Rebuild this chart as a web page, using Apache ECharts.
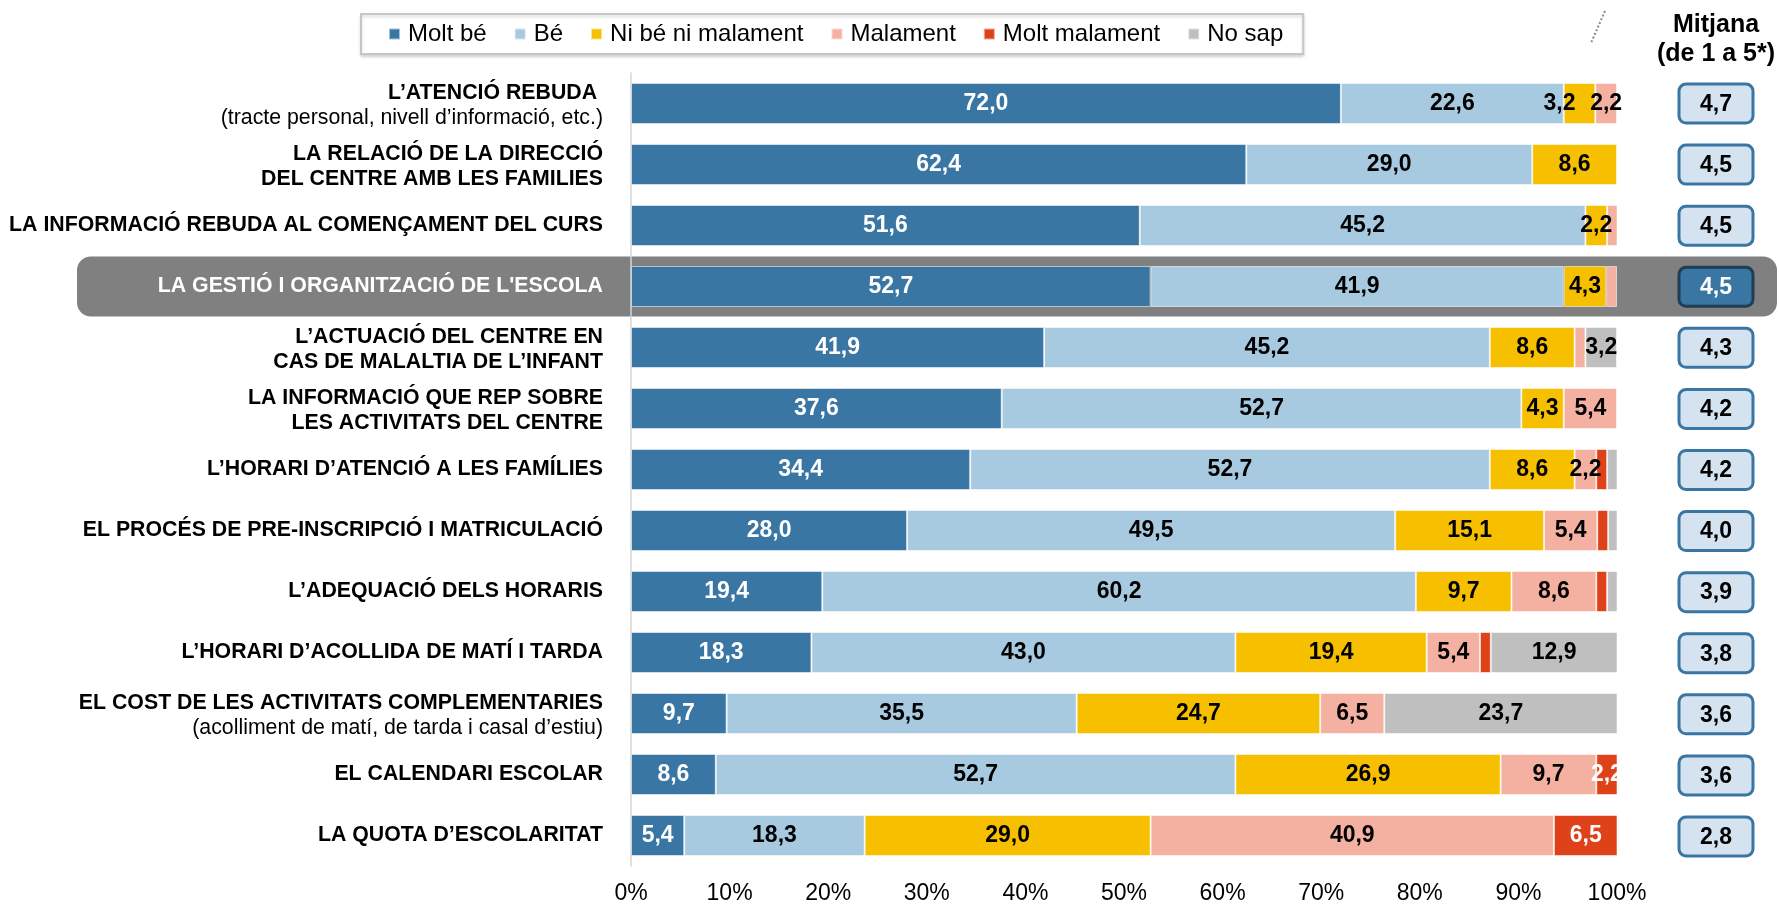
<!DOCTYPE html>
<html>
<head>
<meta charset="utf-8">
<script src="https://cdn.jsdelivr.net/npm/echarts@6/dist/echarts.min.js"></script>
<style>
  html, body { margin: 0; padding: 0; background: #fff; }
  #chart { width: 1779px; height: 905px; }
</style>
</head>
<body>
<div id="chart"></div>
<script>
// Valoració dels serveis de l'escola (% de respostes) i mitjana de 1 a 5
const categories = [
  "L’ATENCIÓ REBUDA ",
  "LA RELACIÓ DE LA DIRECCIÓ\nDEL CENTRE AMB LES FAMILIES",
  "LA INFORMACIÓ REBUDA AL COMENÇAMENT DEL CURS",
  "LA GESTIÓ I ORGANITZACIÓ DE L'ESCOLA",
  "L’ACTUACIÓ DEL CENTRE EN\nCAS DE MALALTIA DE L’INFANT",
  "LA INFORMACIÓ QUE REP SOBRE\nLES ACTIVITATS DEL CENTRE",
  "L’HORARI D’ATENCIÓ A LES FAMÍLIES",
  "EL PROCÉS DE PRE-INSCRIPCIÓ I MATRICULACIÓ",
  "L’ADEQUACIÓ DELS HORARIS",
  "L’HORARI D’ACOLLIDA DE MATÍ I TARDA",
  "EL COST DE LES ACTIVITATS COMPLEMENTARIES",
  "EL CALENDARI ESCOLAR",
  "LA QUOTA D’ESCOLARITAT"
];
const subtitles = [
  "(tracte personal, nivell d’informació, etc.)", "", "", "", "", "", "", "", "", "",
  "(acolliment de matí, de tarda i casal d’estiu)", "", ""
];
const seriesNames = ["Molt bé", "Bé", "Ni bé ni malament", "Malament", "Molt malament", "No sap"];
const moltBe       = [72.0, 62.4, 51.6, 52.7, 41.9, 37.6, 34.4, 28.0, 19.4, 18.3,  9.7,  8.6,  5.4];
const be           = [22.6, 29.0, 45.2, 41.9, 45.2, 52.7, 52.7, 49.5, 60.2, 43.0, 35.5, 52.7, 18.3];
const niBeNiMal    = [ 3.2,  8.6,  2.2,  4.3,  8.6,  4.3,  8.6, 15.1,  9.7, 19.4, 24.7, 26.9, 29.0];
const malament     = [ 2.2,  0,    1.1,  1.1,  1.1,  5.4,  2.2,  5.4,  8.6,  5.4,  6.5,  9.7, 40.9];
const moltMalament = [ 0,    0,    0,    0,    0,    0,    1.1,  1.1,  1.1,  1.1,  0,    2.2,  6.5];
const noSap        = [ 0,    0,    0,    0,    3.2,  0,    1.1,  1.1,  1.1, 12.9, 23.7,  0,    0];
const mitjana      = [4.7, 4.5, 4.5, 4.5, 4.3, 4.2, 4.2, 4.0, 3.9, 3.8, 3.6, 3.6, 2.8];
const xTicks = [0, 10, 20, 30, 40, 50, 60, 70, 80, 90, 100];
const highlightIndex = 3;

const FONT = "'Liberation Sans', Arial, Helvetica, sans-serif";
const colors = ["#3a76a3", "#a8cae1", "#f6c000", "#f4b1a1", "#df4119", "#bfbfbf"];
const labelColors = ["#fff", "#000", "#000", "#000", "#fff", "#000"];
const values = [moltBe, be, niBeNiMal, malament, moltMalament, noSap];

const fmt = v => v.toFixed(1).replace('.', ',');

const barSeries = seriesNames.map((name, s) => ({
  name,
  type: 'bar',
  stack: 'total',
  barWidth: 41,
  xAxisIndex: 0,
  yAxisIndex: 0,
  z: 4,
  itemStyle: { color: colors[s], borderColor: 'rgba(255,255,255,0.55)', borderWidth: 1 },
  label: {
    show: true,
    position: 'inside',
    color: labelColors[s],
    fontFamily: FONT,
    fontWeight: 'bold',
    fontSize: 23,
    formatter: p => (p.value >= 2 ? fmt(p.value) : '')
  },
  emphasis: { disabled: true },
  data: values[s].map((v, i) => {
    const item = { value: v === 0 ? '-' : v };
    // small yellow segment next to another label: nudge its text left
    if (s === 2 && i === 0) item.label = { offset: [-20, 0] };
    return item;
  })
}));

const chart = echarts.init(document.getElementById('chart'), null, { renderer: 'canvas' });

const GRID_TOP = 73, GRID_BOTTOM = 38;

const option = {
  animation: false,
  textStyle: { fontFamily: FONT },
  legend: {
    data: seriesNames,
    left: 361,
    top: 14,
    padding: [8, 20, 8, 27],
    itemGap: 27,
    itemWidth: 11,
    itemHeight: 11,
    icon: 'rect',
    borderColor: '#c6c6c6',
    borderWidth: 2,
    shadowColor: 'rgba(0,0,0,0.15)',
    shadowBlur: 3,
    shadowOffsetY: 2,
    backgroundColor: '#fff',
    selectedMode: false,
    textStyle: { fontFamily: FONT, fontSize: 24, color: '#000', padding: [0, 0, 0, 3] }
  },
  grid: [
    { left: 631, right: 162, top: GRID_TOP, bottom: GRID_BOTTOM },
    { left: 1678, width: 76, top: GRID_TOP, bottom: GRID_BOTTOM }
  ],
  xAxis: [
    {
      type: 'value', gridIndex: 0, min: xTicks[0], max: xTicks[xTicks.length - 1], interval: 10,
      axisLine: { show: false }, axisTick: { show: false }, splitLine: { show: false },
      axisLabel: { formatter: '{value}%', fontSize: 23, color: '#000', margin: 16, fontFamily: FONT }
    },
    { type: 'value', gridIndex: 1, min: 0, max: 5, show: false }
  ],
  yAxis: [
    {
      type: 'category', gridIndex: 0, data: categories, inverse: true,
      z: 3,
      axisLine: { show: true, lineStyle: { color: '#d6d6d6', width: 1.5 } },
      axisTick: { show: false },
      axisLabel: {
        margin: 28,
        interval: 0,
        formatter: (val, idx) => {
          const st = idx === highlightIndex ? 'h' : 't';
          const lines = val.split('\n').map(l => `{${st}|${l}}`);
          if (subtitles[idx]) lines.push(`{s|${subtitles[idx]}}`);
          // two-line labels sit a little lower in their row
          if (lines.length > 1) lines.unshift('{gap| }');
          return lines.join('\n');
        },
        rich: {
          gap: { fontSize: 1, lineHeight: 4 },
          t: { fontFamily: FONT, fontWeight: 'bold', fontSize: 21.3, color: '#000', lineHeight: 25, align: 'right' },
          h: { fontFamily: FONT, fontWeight: 'bold', fontSize: 21.3, color: '#fff', lineHeight: 25, align: 'right' },
          s: { fontFamily: FONT, fontSize: 21.3, color: '#000', lineHeight: 25, align: 'right' }
        }
      }
    },
    { type: 'category', gridIndex: 1, data: categories, inverse: true, show: false }
  ],
  series: barSeries.concat([{
    name: 'Mitjana',
    type: 'custom',
    xAxisIndex: 1,
    yAxisIndex: 1,
    z: 4,
    encode: { x: 0, y: 1 },
    data: mitjana.map((m, i) => [m, categories[i]]),
    renderItem: (params, api) => {
      const idx = api.value(1);
      const cy = api.coord([0, idx])[1];
      const cx = params.coordSys.x + params.coordSys.width / 2;
      const hl = idx === highlightIndex;
      return {
        type: 'group',
        children: [
          {
            type: 'rect',
            shape: { x: cx - 37, y: cy - 19.5, width: 74, height: 39, r: 7 },
            style: { fill: hl ? '#3a76a3' : '#d5e3f0', stroke: hl ? '#1f3d55' : '#3a76a3', lineWidth: 3 }
          },
          {
            type: 'text',
            style: {
              text: fmt(api.value(0)), x: cx, y: cy + 1, align: 'center', verticalAlign: 'middle',
              font: `bold 23px ${FONT}`, fill: hl ? '#fff' : '#000'
            }
          }
        ]
      };
    }
  }])
};

chart.setOption(option);

// Grey band behind the highlighted row, plus the header of the mean column
const rowY = chart.convertToPixel({ yAxisIndex: 0 }, categories[highlightIndex]);
chart.setOption({
  graphic: [
    {
      id: 'band', type: 'rect', z: 1, silent: true,
      shape: { x: 77, y: rowY - 30, width: 1700, height: 60, r: 14 },
      style: { fill: '#808080' }
    },
    {
      id: 'title', type: 'text', z: 10,
      style: {
        text: 'Mitjana\n(de 1 a 5*)', x: 1716, y: 10, align: 'center', verticalAlign: 'top',
        font: `bold 25px ${FONT}`, lineHeight: 29.5, fill: '#000'
      }
    },
    {
      id: 'dots', type: 'line', z: 10,
      shape: { x1: 1605, y1: 11, x2: 1591, y2: 43 },
      style: { stroke: '#8a8a8a', lineWidth: 2, lineDash: [2, 2] }
    }
  ]
});
</script>
</body>
</html>
